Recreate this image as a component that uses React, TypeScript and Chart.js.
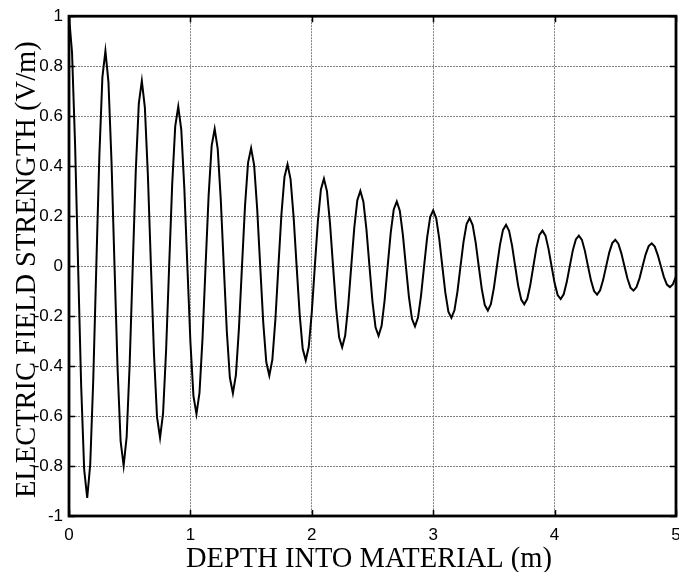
import { useEffect, useRef } from "react";
import { Chart, registerables } from "chart.js";

Chart.register(...registerables);

// Depth into material (m)
const depth = [
  0, 0.025, 0.05, 0.075, 0.1, 0.125, 0.15, 0.175, 0.2, 0.225, 0.25, 0.275,
  0.3, 0.325, 0.35, 0.375, 0.4, 0.425, 0.45, 0.475, 0.5, 0.525, 0.55, 0.575,
  0.6, 0.625, 0.65, 0.675, 0.7, 0.725, 0.75, 0.775, 0.8, 0.825, 0.85, 0.875,
  0.9, 0.925, 0.95, 0.975, 1, 1.025, 1.05, 1.075, 1.1, 1.125, 1.15, 1.175,
  1.2, 1.225, 1.25, 1.275, 1.3, 1.325, 1.35, 1.375, 1.4, 1.425, 1.45, 1.475,
  1.5, 1.525, 1.55, 1.575, 1.6, 1.625, 1.65, 1.675, 1.7, 1.725, 1.75, 1.775,
  1.8, 1.825, 1.85, 1.875, 1.9, 1.925, 1.95, 1.975, 2, 2.025, 2.05, 2.075,
  2.1, 2.125, 2.15, 2.175, 2.2, 2.225, 2.25, 2.275, 2.3, 2.325, 2.35, 2.375,
  2.4, 2.425, 2.45, 2.475, 2.5, 2.525, 2.55, 2.575, 2.6, 2.625, 2.65, 2.675,
  2.7, 2.725, 2.75, 2.775, 2.8, 2.825, 2.85, 2.875, 2.9, 2.925, 2.95, 2.975,
  3, 3.025, 3.05, 3.075, 3.1, 3.125, 3.15, 3.175, 3.2, 3.225, 3.25, 3.275,
  3.3, 3.325, 3.35, 3.375, 3.4, 3.425, 3.45, 3.475, 3.5, 3.525, 3.55, 3.575,
  3.6, 3.625, 3.65, 3.675, 3.7, 3.725, 3.75, 3.775, 3.8, 3.825, 3.85, 3.875,
  3.9, 3.925, 3.95, 3.975, 4, 4.025, 4.05, 4.075, 4.1, 4.125, 4.15, 4.175,
  4.2, 4.225, 4.25, 4.275, 4.3, 4.325, 4.35, 4.375, 4.4, 4.425, 4.45, 4.475,
  4.5, 4.525, 4.55, 4.575, 4.6, 4.625, 4.65, 4.675, 4.7, 4.725, 4.75, 4.775,
  4.8, 4.825, 4.85, 4.875, 4.9, 4.925, 4.95, 4.975, 5,
];

// Electric field strength (V/m)
const field = [
  1, 0.855, 0.488, 0, -0.476, -0.814, -0.928, -0.793, -0.452, 0, 0.441, 0.755,
  0.861, 0.736, 0.42, 0, -0.409, -0.7, -0.799, -0.683, -0.389, 0, 0.38, 0.65,
  0.741, 0.634, 0.361, 0, -0.352, -0.603, -0.687, -0.588, -0.335, 0, 0.327, 0.559,
  0.638, 0.545, 0.311, 0, -0.303, -0.519, -0.592, -0.506, -0.288, 0, 0.281, 0.481,
  0.549, 0.469, 0.268, 0, -0.261, -0.446, -0.509, -0.435, -0.248, 0, 0.242, 0.414,
  0.472, 0.404, 0.23, 0, -0.225, -0.384, -0.438, -0.375, -0.214, 0, 0.208, 0.357,
  0.407, 0.348, 0.198, 0, -0.193, -0.331, -0.377, -0.323, -0.184, 0, 0.179, 0.307,
  0.35, 0.299, 0.171, 0, -0.166, -0.285, -0.325, -0.278, -0.158, 0, 0.154, 0.264,
  0.301, 0.258, 0.147, 0, -0.143, -0.245, -0.279, -0.239, -0.136, 0, 0.133, 0.227,
  0.259, 0.222, 0.126, 0, -0.123, -0.211, -0.241, -0.206, -0.117, 0, 0.114, 0.196,
  0.223, 0.191, 0.109, 0, -0.106, -0.182, -0.207, -0.177, -0.101, 0, 0.098, 0.168,
  0.192, 0.164, 0.094, 0, -0.091, -0.156, -0.178, -0.152, -0.087, 0, 0.085, 0.145,
  0.165, 0.141, 0.081, 0, -0.079, -0.134, -0.153, -0.131, -0.075, 0, 0.073, 0.125,
  0.142, 0.122, 0.069, 0, -0.068, -0.116, -0.132, -0.113, -0.064, 0, 0.063, 0.107,
  0.122, 0.105, 0.06, 0, -0.058, -0.1, -0.114, -0.097, -0.055, 0, 0.054, 0.092,
  0.105, 0.09, 0.051, 0, -0.05, -0.086, -0.098, -0.084, -0.048, 0, 0.047, 0.08,
  0.091, 0.078, 0.044, 0, -0.043, -0.074, -0.084, -0.072, -0.041,
];

const xTitle = "DEPTH INTO MATERIAL (m) ";
const yTitle = "ELECTRIC FIELD STRENGTH (V/m) ";
const xRange = [0, 5];
const yRange = [-1, 1];
const xStep = 1;
const yStep = 0.2;

const frameAndTicks = {
  id: "frameAndTicks",
  afterDraw(chart: any) {
    const { ctx, chartArea: a, scales } = chart;
    const xs = scales.x;
    const ys = scales.y;
    const L = 6;
    ctx.save();
    ctx.strokeStyle = "#000";
    ctx.lineWidth = 1.5;
    ctx.beginPath();
    xs.ticks.forEach((t: any) => {
      const px = Math.round(xs.getPixelForValue(t.value)) + 0.5;
      ctx.moveTo(px, a.bottom);
      ctx.lineTo(px, a.bottom - L);
      ctx.moveTo(px, a.top);
      ctx.lineTo(px, a.top + L);
    });
    ys.ticks.forEach((t: any) => {
      const py = Math.round(ys.getPixelForValue(t.value)) + 0.5;
      ctx.moveTo(a.left, py);
      ctx.lineTo(a.left + L, py);
      ctx.moveTo(a.right, py);
      ctx.lineTo(a.right - L, py);
    });
    ctx.stroke();
    ctx.lineWidth = 2.8;
    ctx.strokeRect(a.left, a.top, a.right - a.left, a.bottom - a.top);
    ctx.restore();
  },
};

export default function App() {
  const ref = useRef<HTMLCanvasElement | null>(null);

  useEffect(() => {
    if (!ref.current) return;
    const points = depth.map((d, i) => ({ x: d, y: field[i] }));
    const gridColor = "#808080";
    const chart = new Chart(ref.current, {
      type: "line",
      data: {
        datasets: [
          {
            data: points,
            borderColor: "#000",
            borderWidth: 2,
            pointRadius: 0,
            tension: 0,
            fill: false,
          },
        ],
      },
      options: {
        animation: false,
        responsive: false,
        events: [],
        layout: { padding: { top: 16, right: 24, left: 0, bottom: 0 } },
        plugins: {
          legend: { display: false },
          tooltip: { enabled: false },
        },
        scales: {
          x: {
            type: "linear",
            min: xRange[0],
            max: xRange[1],
            afterFit: (s: any) => {
              s.height = 56;
            },
            ticks: {
              stepSize: xStep,
              color: "#000",
              padding: 9,
              font: { family: "'Liberation Sans', Arial, sans-serif", size: 17 },
              callback: (v: any) => String(v),
            },
            grid: {
              color: gridColor,
              lineWidth: 1,
              drawTicks: false,
            },
            border: { display: false, dash: [2, 1] },
            title: {
              display: true,
              text: xTitle,
              color: "#000",
              font: { family: "'Liberation Serif', 'Times New Roman', serif", size: 28.5, lineHeight: 1 },
              padding: { top: 0, bottom: -1.5 },
            },
          },
          y: {
            type: "linear",
            min: yRange[0],
            max: yRange[1],
            afterFit: (s: any) => {
              s.width = 69;
            },
            ticks: {
              stepSize: yStep,
              color: "#000",
              padding: 6,
              font: { family: "'Liberation Sans', Arial, sans-serif", size: 17 },
              callback: (v: any) => String(Math.round(Number(v) * 10) / 10),
            },
            grid: {
              color: gridColor,
              lineWidth: 1,
              drawTicks: false,
            },
            border: { display: false, dash: [2, 1] },
            title: {
              display: true,
              text: yTitle,
              color: "#000",
              font: { family: "'Liberation Serif', 'Times New Roman', serif", size: 28.5, lineHeight: 1 },
              padding: { top: 13, bottom: 0 },
            },
          },
        },
      },
      plugins: [frameAndTicks],
    });
    return () => chart.destroy();
  }, []);

  return (
    <div
      style={{
        position: "fixed",
        left: 0,
        top: 0,
        width: 679,
        height: 572,
        overflow: "hidden",
        background: "#fff",
      }}
    >
      <canvas ref={ref} width={700} height={572} style={{ display: "block" }} />
    </div>
  );
}
